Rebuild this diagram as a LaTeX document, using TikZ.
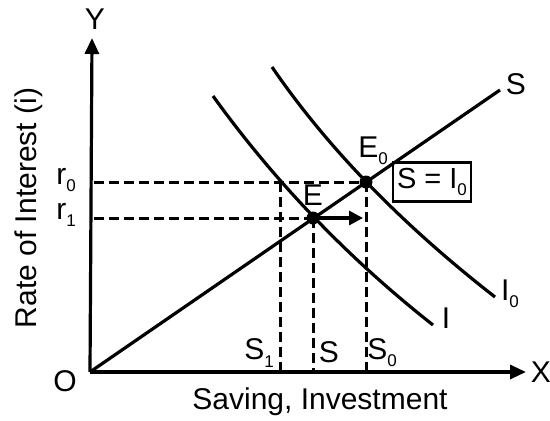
\documentclass[tikz,border=0pt]{standalone}
\usepackage{fontspec}
\setmainfont{Liberation Sans}
\usetikzlibrary{arrows.meta}
\newcommand{\lowsub}[1]{\raisebox{-0.45ex}{\fontsize{17}{17}\selectfont #1}}
\tikzset{
  curve/.style={line width=3.2pt},
  guide/.style={line width=3pt, dash pattern=on 10pt off 5pt},
  lbl/.style={inner sep=0pt, font=\fontsize{30}{32}\selectfont},
  dot/.style={circle, fill=black, inner sep=0pt, minimum size=13pt},
  eqbox/.style={draw, line width=2.2pt, minimum width=78pt, minimum height=39pt, inner sep=0pt, font=\fontsize{29}{31}\selectfont}
}
\begin{document}
\begin{tikzpicture}[x=1pt,y=-1pt]
\useasboundingbox (0,0) rectangle (550,421);
% coordinates
\coordinate (O) at (90,372);
\coordinate (Ytop) at (92,38);
\coordinate (Xend) at (526,372);
\coordinate (Send) at (500,90);
\coordinate (Itop) at (213,96);
\coordinate (Iend) at (433,325);
\coordinate (I0top) at (272,67);
\coordinate (I0end) at (495,297);
\coordinate (r0y) at (94,182);
\coordinate (r1y) at (94,218);
\coordinate (S1top) at (280,182);
\coordinate (S1bot) at (280,372);
\coordinate (Ebot) at (313,372);
\coordinate (E0bot) at (366,372);
\coordinate (Arr) at (363,218);
% axes
\draw[curve, -{Triangle[length=16pt,width=14pt]}] (O) -- (Ytop);
\draw[curve, -{Triangle[length=16pt,width=14pt]}] (O) -- (Xend);
% curves
\draw[curve] (O) -- (Send);
\draw[curve] (Itop) .. controls (275,182) and (348.3,258.3) .. (Iend);
\draw[curve] (I0top) .. controls (327.3,147.7) and (401.7,224.3) .. (I0end);
% equilibrium points
\node[dot] (E0) at (366,182) {};
\node[dot] (E) at (313,218) {};
% guides
\draw[guide] (r0y) -- (E0.center);
\draw[guide] (E0.center) -- (E0bot);
\draw[guide] (r1y) -- (E.center);
\draw[guide] (E.center) -- (Ebot);
\draw[guide] (S1top) -- (S1bot);
\draw[curve, -{Triangle[length=14pt,width=14pt]}] (E.center) -- (Arr);
% labels
\node[lbl] (Ylab) at (95,19) {Y};
\node[lbl] (Xlab) at (541,372) {X};
\node[lbl] (Olab) at (65,381) {O};
\node[lbl] (r0lab) at (66,180) {r\lowsub{0}};
\node[lbl] (r1lab) at (66,215) {r\lowsub{1}};
\node[lbl] (S1lab) at (259,353) {S\lowsub{1}};
\node[lbl] (Slab) at (329,352) {S};
\node[lbl] (S0lab) at (382,353) {S\lowsub{0}};
\node[lbl] (Elab) at (313,195) {E};
\node[lbl] (E0lab) at (373,151) {E\lowsub{0}};
\node[lbl] (Stop) at (516,84) {S};
\node[lbl] (Ilab) at (446,318) {I};
\node[lbl] (I0lab) at (510,294) {I\lowsub{0}};
\node[eqbox] (box) at (432,182) {S = I\lowsub{0}};
\node[lbl] (xtitle) at (320,402) {Saving, Investment};
\node[lbl, rotate=90] (ytitle) at (29,208) {Rate of Interest (i)};
\end{tikzpicture}
\end{document}
